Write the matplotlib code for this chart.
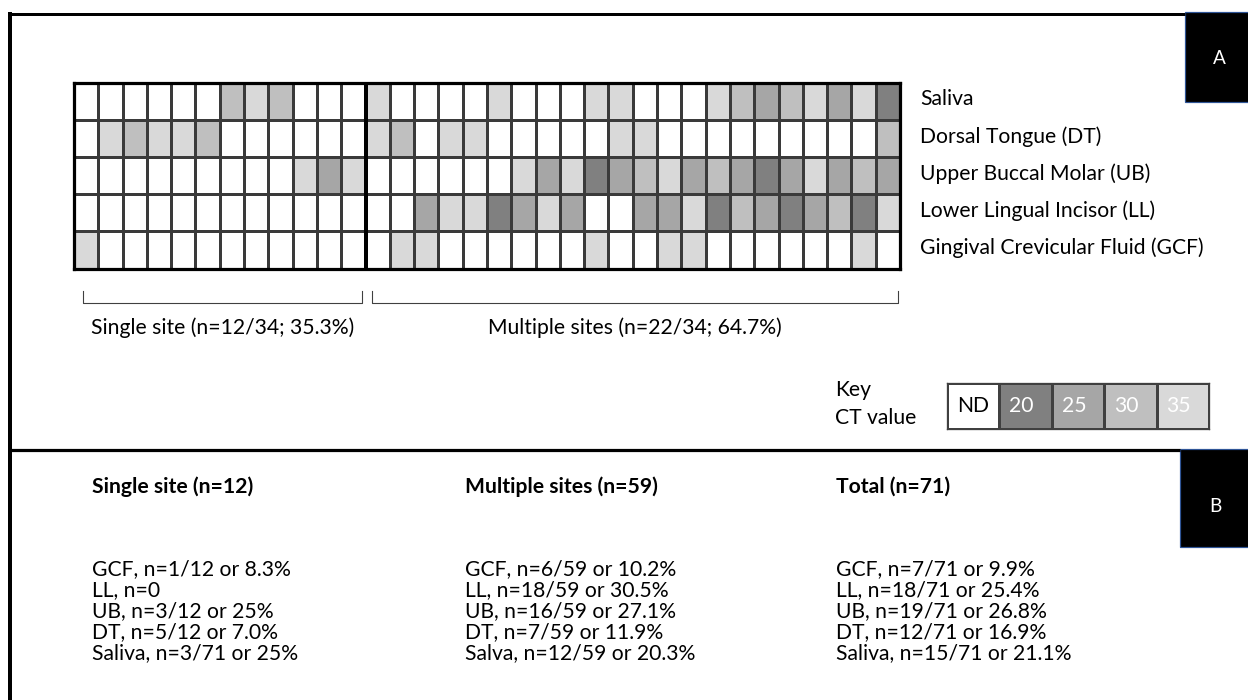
import numpy as np
import matplotlib
matplotlib.use("Agg")
import matplotlib.pyplot as plt
from matplotlib.colors import ListedColormap, BoundaryNorm
from matplotlib.patches import Rectangle

plt.rcParams["font.family"] = ["Lato", "DejaVu Sans"]

W, H, DPI = 1248, 700, 100

# sampling sites (rows of the grid)
sites = [
    "Saliva",
    "Dorsal Tongue (DT)",
    "Upper Buccal Molar (UB)",
    "Lower Lingual Incisor (LL)",
    "Gingival Crevicular Fluid (GCF)",
]

# CT values per patient, 0 = not detected
single_ct = [
    [0, 0, 0, 0, 0, 0, 30, 35, 30, 0, 0, 0],
    [0, 35, 30, 35, 35, 30, 0, 0, 0, 0, 0, 0],
    [0, 0, 0, 0, 0, 0, 0, 0, 0, 35, 25, 35],
    [0, 0, 0, 0, 0, 0, 0, 0, 0, 0, 0, 0],
    [35, 0, 0, 0, 0, 0, 0, 0, 0, 0, 0, 0],
]
multi_ct = [
    [35, 0, 0, 0, 0, 35, 0, 0, 0, 35, 35, 0, 0, 0, 35, 30, 25, 30, 35, 25, 35, 20],
    [35, 30, 0, 35, 35, 0, 0, 0, 0, 0, 35, 35, 0, 0, 0, 0, 0, 0, 0, 0, 0, 30],
    [0, 0, 0, 0, 0, 0, 35, 25, 35, 20, 25, 30, 35, 25, 30, 25, 20, 25, 35, 25, 30, 25],
    [0, 0, 25, 35, 35, 20, 25, 35, 25, 0, 0, 25, 25, 35, 20, 30, 25, 20, 25, 30, 20, 35],
    [0, 35, 35, 0, 0, 0, 0, 0, 0, 35, 0, 0, 35, 35, 0, 0, 0, 0, 0, 0, 35, 0],
]

key_values = [0, 20, 25, 30, 35]
key_labels = ["ND", "20", "25", "30", "35"]
key_text_colors = ["black", "white", "white", "white", "white"]

single_label = "Single site (n=12/34; 35.3%)"
multi_label = "Multiple sites (n=22/34; 64.7%)"

summary_titles = ["Single site (n=12)", "Multiple sites (n=59)", "Total (n=71)"]
summary_lines = [
    ["GCF, n=1/12 or 8.3%", "LL, n=0", "UB, n=3/12 or 25%",
     "DT, n=5/12 or 7.0%", "Saliva, n=3/71 or 25%"],
    ["GCF, n=6/59 or 10.2%", "LL, n=18/59 or 30.5%", "UB, n=16/59 or 27.1%",
     "DT, n=7/59 or 11.9%", "Salva, n=12/59 or 20.3%"],
    ["GCF, n=7/71 or 9.9%", "LL, n=18/71 or 25.4%", "UB, n=19/71 or 26.8%",
     "DT, n=12/71 or 16.9%", "Saliva, n=15/71 or 21.1%"],
]

colors = ["#ffffff", "#808080", "#a6a6a6", "#bfbfbf", "#d9d9d9"]
cmap = ListedColormap(colors)
norm = BoundaryNorm([-1, 10, 22.5, 27.5, 32.5, 40], cmap.N)

FS = 15.2
PX = 72 / DPI  # points per pixel


def fig_rect(x0, y0, x1, y1):
    return [x0 / W, 1 - y1 / H, (x1 - x0) / W, (y1 - y0) / H]


fig = plt.figure(figsize=(W / DPI, H / DPI), dpi=DPI)

# heatmap
grid = np.hstack([np.array(single_ct), np.array(multi_ct)])
n_single = len(single_ct[0])
ax = fig.add_axes(fig_rect(74, 82.5, 900, 268.5))
ax.pcolormesh(grid, cmap=cmap, norm=norm, edgecolors="#3a3a3a", linewidth=1.3 * PX)
ax.set_xlim(0, grid.shape[1])
ax.set_ylim(grid.shape[0], 0)
ax.axvline(n_single, color="black", lw=4 * PX)
for s in ax.spines.values():
    s.set_linewidth(3.2 * PX)
    s.set_color("black")
ax.set_xticks([])
ax.yaxis.tick_right()
ax.set_yticks(np.arange(len(sites)) + 0.4)
ax.set_yticklabels(sites, fontsize=FS)
ax.tick_params(axis="y", length=0, pad=20 * PX)

# key
kax = fig.add_axes(fig_rect(947, 383, 1209, 429))
kax.pcolormesh(np.array([key_values]), cmap=cmap, norm=norm,
               edgecolors="#404040", linewidth=1.3 * PX)
kax.set_xlim(0, len(key_values))
kax.set_ylim(1, 0)
for s in kax.spines.values():
    s.set_linewidth(1.3 * PX)
    s.set_color("#404040")
kax.set_xticks([])
kax.set_yticks([])
for i, (lab, c) in enumerate(zip(key_labels, key_text_colors)):
    kax.text(i + 0.19, 0.5, lab, color=c, fontsize=FS, ha="left", va="center")

# overlay in pixel coordinates for frame, brackets and text
ov = fig.add_axes([0, 0, 1, 1])
ov.set_xlim(0, W)
ov.set_ylim(H, 0)
ov.axis("off")
ov.patch.set_alpha(0)

ov.plot([10, 1185], [13.5, 13.5], color="black", lw=3 * PX, solid_capstyle="butt")
ov.plot([10, 10], [12, H], color="black", lw=4 * PX, solid_capstyle="butt")
ov.plot([10, 1180], [449.5, 449.5], color="black", lw=3.2 * PX, solid_capstyle="butt")

# panel letters
ov.add_patch(Rectangle((1185, 12), 70, 90, facecolor="black", edgecolor="#2f5597", lw=1.2 * PX))
ov.text(1219, 58, "A", color="white", fontsize=FS - 1.5, ha="center", va="center")
ov.add_patch(Rectangle((1180, 449), 75, 98, facecolor="black", edgecolor="#2f5597", lw=1.2 * PX))
ov.text(1215, 506, "B", color="white", fontsize=FS - 1.5, ha="center", va="center")

# brackets
for (x0, x1), lab in [((83, 362), single_label), ((372, 898), multi_label)]:
    ov.plot([x0, x0, x1, x1], [291, 303, 303, 291], color="#404040", lw=1.1 * PX)
    ov.text((x0 + x1) / 2, 328, lab, fontsize=FS, ha="center", va="center")

ov.text(835, 390, "Key", fontsize=FS, ha="left", va="center")
ov.text(835, 418, "CT value", fontsize=FS, ha="left", va="center")

# summary text
for x, title, lines in zip([92, 465, 836], summary_titles, summary_lines):
    ov.text(x, 487, title, fontsize=FS, fontweight="bold", ha="left", va="center")
    for j, line in enumerate(lines):
        ov.text(x, 569 + j * 21, line, fontsize=FS, ha="left", va="center")

fig.savefig("out.png", dpi=DPI)
